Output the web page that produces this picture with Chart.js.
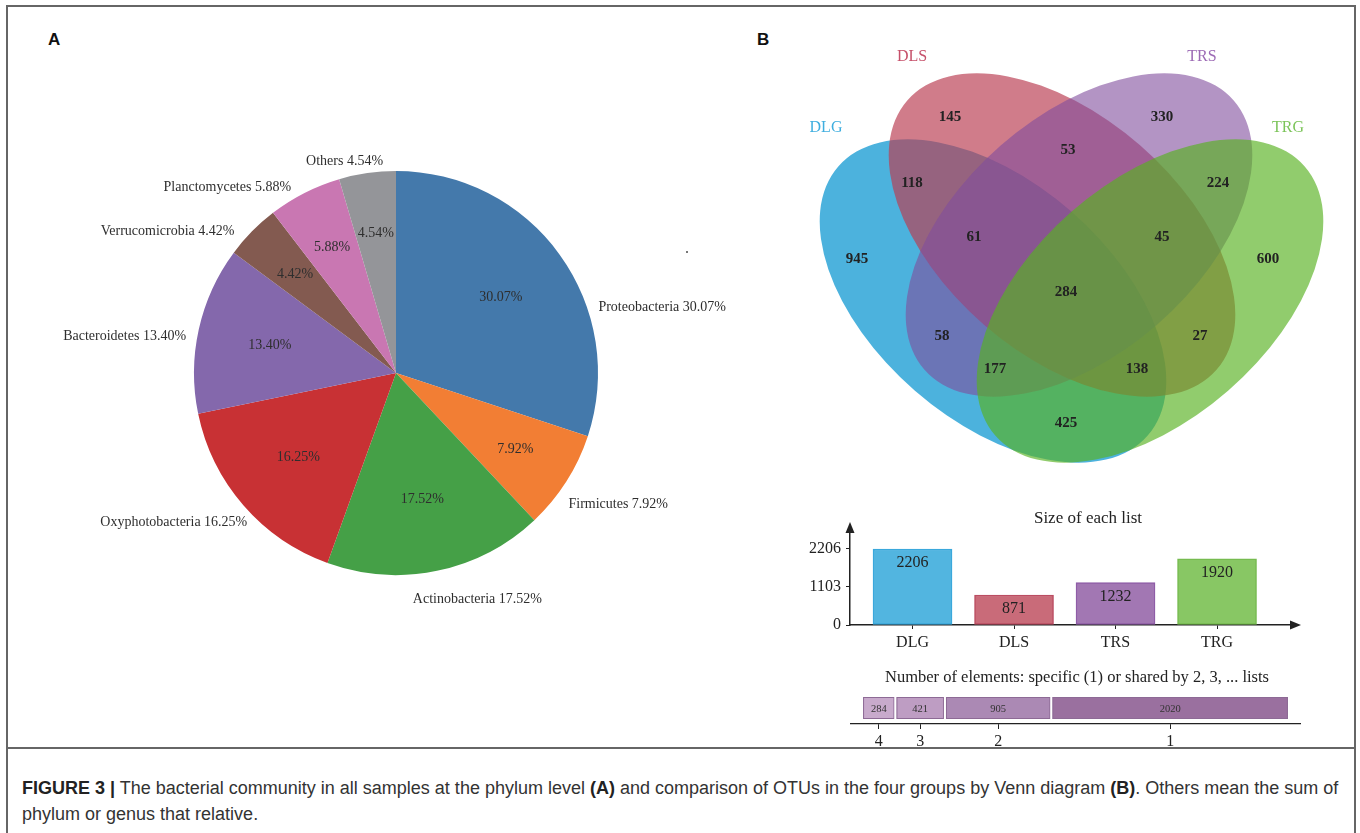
<!DOCTYPE html>
<html>
<head>
<meta charset="utf-8">
<title>Figure 3</title>
<script src="https://cdn.jsdelivr.net/npm/chart.js@4.4.1/dist/chart.umd.min.js"></script>
<style>
  html, body { margin: 0; padding: 0; background: #fff; }
  body { width: 1360px; height: 833px; position: relative; overflow: hidden; }
  canvas { position: absolute; }
  .frame { position: absolute; left: 6px; top: 5px; width: 1350px; height: 900px; border: 2px solid #666; box-sizing: border-box; }
  .sep { position: absolute; left: 6px; top: 747px; width: 1350px; border-top: 2px solid #666; }
  .panel { position: absolute; font: bold 17px/1 "Liberation Sans", Arial, sans-serif; color: #111; }
  .title { position: absolute; font-family: "Liberation Serif", serif; color: #222; white-space: nowrap; transform: translateX(-50%); line-height: 1; }
  .caption { position: absolute; left: 22px; top: 775px; font: 18px/26px "Liberation Sans", Arial, sans-serif; color: #333; white-space: nowrap; }
  .caption b { color: #222; }
  .dot { position: absolute; left: 686px; top: 251px; width: 2px; height: 2px; background: #777; }
</style>
</head>
<body>
<div class="frame"></div>
<div class="sep"></div>

<canvas id="pieChart" width="752" height="486" style="left:20px;top:130px"></canvas>
<canvas id="vennChart" width="560" height="440" style="left:790px;top:40px"></canvas>
<canvas id="sizeChart" width="530" height="150" style="left:790px;top:505px"></canvas>
<canvas id="sharedChart" width="530" height="95" style="left:790px;top:660px"></canvas>

<div class="panel" style="left:48px;top:31px">A</div>
<div class="panel" style="left:757px;top:31px">B</div>
<div class="dot"></div>
<div class="title" style="left:1088px;top:509px;font-size:17px">Size of each list</div>
<div class="title" style="left:1077px;top:669px;font-size:16.5px">Number of elements: specific (1) or shared by 2, 3, ... lists</div>

<div class="caption"><b>FIGURE 3 |</b> The bacterial community in all samples at the phylum level <b>(A)</b> and comparison of OTUs in the four groups by Venn diagram <b>(B)</b>. Others mean the sum of<br>phylum or genus that relative.</div>

<script>
// dati del pannello A (phylum, % relativa)
const phylumNames = ['Proteobacteria', 'Firmicutes', 'Actinobacteria', 'Oxyphotobacteria',
                     'Bacteroidetes', 'Verrucomicrobia', 'Planctomycetes', 'Others'];
const phylumPercent = [30.07, 7.92, 17.52, 16.25, 13.40, 4.42, 5.88, 4.54];
const phylumColors = ['#4479ab', '#f27e34', '#45a047', '#c83134', '#8468ac', '#835a50', '#c977b2', '#949599'];

// dati del pannello B (Venn)
const setNames = ['DLG', 'DLS', 'TRS', 'TRG'];
const setColors = ['#3faedf', '#c6506a', '#9c6ab5', '#7cc45a'];
const regionCounts = [945, 145, 330, 600, 118, 53, 224, 61, 45, 284, 58, 27, 177, 138, 425];

// dimensione di ogni lista
const listSizes = [2206, 871, 1232, 1920];
const sizeTicks = [0, 1103, 2206];
const listFill = ['#52b5e0', '#c96b79', '#a277b3', '#88c764'];
const listBorder = ['#3aa8dc', '#bb4d62', '#8f5ca7', '#76bb4f'];

// elementi specifici (1) o condivisi da 2, 3, 4 liste
const sharedBy = ['4', '3', '2', '1'];
const sharedCounts = [284, 421, 905, 2020];
const sharedFill = ['#c8aacc', '#be9dc3', '#ab89b4', '#9a709f'];

// layout del Venn (unita' = pixel, origine sull'asse di simmetria)
const ellipses = [
  { cx: -77, cy: -41, rx: 205, ry: 119, rot: 41 },
  { cx: -8, cy: 25, rx: 205, ry: 119, rot: 41 },
  { cx: 9, cy: 25, rx: 205, ry: 119, rot: -41 },
  { cx: 80, cy: -41, rx: 205, ry: 119, rot: -41 }
];
const ellipseFill = ['rgba(0,146,206,0.7)', 'rgba(186,62,82,0.68)', 'rgba(128,76,156,0.6)', 'rgba(88,178,34,0.66)'];
const regionX = [-213, -120, 92, 198, -158, -2, 148, -96, 92, -4, -128, 130, -75, 67, -4];
const regionY = [1, 143, 143, 1, 77, 110, 77, 23, 23, -32, -76, -76, -109, -109, -163];
const setLabelX = [-244, -158, 132, 218];
const setLabelY = [132, 203, 203, 132];

// spostamenti delle etichette esterne della torta
const pieNudge = [[29, 60], [-8, 16], [38, 17], [13, 9], [-1, 9], [-9, 8], [-8, 5], [-21, 0]];

const serif = '"Liberation Serif", "Times New Roman", serif';

// etichette della torta: percentuale dentro, nome + percentuale fuori
const pieLabels = {
  id: 'pieLabels',
  afterDatasetsDraw(chart) {
    const ctx = chart.ctx;
    const meta = chart.getDatasetMeta(0);
    ctx.save();
    ctx.font = '14px ' + serif;
    ctx.fillStyle = '#2e2e2e';
    ctx.textBaseline = 'middle';
    meta.data.forEach((arc, i) => {
      const p = arc.getProps(['x', 'y', 'startAngle', 'endAngle', 'outerRadius'], true);
      const mid = (p.startAngle + p.endAngle) / 2;
      const c = Math.cos(mid), s = Math.sin(mid);
      const txt = phylumPercent[i].toFixed(2) + '%';
      const ri = p.outerRadius * (phylumPercent[i] > 10 ? 0.64 : 0.7);
      ctx.textAlign = 'center';
      ctx.fillText(txt, p.x + c * ri, p.y + s * ri);
      const ro = p.outerRadius + 12;
      ctx.textAlign = Math.abs(c) < 0.3 ? 'center' : (c > 0 ? 'left' : 'right');
      ctx.fillText(phylumNames[i] + ' ' + txt, p.x + c * ro + pieNudge[i][0], p.y + s * ro + pieNudge[i][1]);
    });
    ctx.restore();
  }
};

new Chart(document.getElementById('pieChart'), {
  type: 'pie',
  data: {
    labels: phylumNames,
    datasets: [{ data: phylumPercent, backgroundColor: phylumColors, borderWidth: 0 }]
  },
  options: {
    responsive: false,
    animation: false,
    layout: { padding: 41 },
    plugins: { legend: { display: false }, tooltip: { enabled: false } }
  },
  plugins: [pieLabels]
});

// ellissi e numeri del Venn disegnati con le scale del grafico
const vennDraw = {
  id: 'vennDraw',
  beforeDatasetsDraw(chart) {
    const ctx = chart.ctx;
    const xs = chart.scales.x, ys = chart.scales.y;
    const ux = xs.getPixelForValue(1) - xs.getPixelForValue(0);
    const uy = ys.getPixelForValue(0) - ys.getPixelForValue(1);
    ctx.save();
    ellipses.forEach((e, i) => {
      ctx.beginPath();
      ctx.ellipse(xs.getPixelForValue(e.cx), ys.getPixelForValue(e.cy), e.rx * ux, e.ry * uy,
                  e.rot * Math.PI / 180, 0, Math.PI * 2);
      ctx.fillStyle = ellipseFill[i];
      ctx.fill();
    });
    ctx.font = '16px ' + serif;
    ctx.textAlign = 'center';
    ctx.textBaseline = 'middle';
    setNames.forEach((n, i) => {
      ctx.fillStyle = setColors[i];
      ctx.fillText(n, xs.getPixelForValue(setLabelX[i]), ys.getPixelForValue(setLabelY[i]));
    });
    ctx.restore();
  },
  afterDatasetsDraw(chart) {
    const ctx = chart.ctx;
    ctx.save();
    ctx.font = 'bold 15px ' + serif;
    ctx.fillStyle = '#222';
    ctx.textAlign = 'center';
    ctx.textBaseline = 'middle';
    chart.getDatasetMeta(0).data.forEach((pt, i) => {
      ctx.fillText(String(regionCounts[i]), pt.x, pt.y);
    });
    ctx.restore();
  }
};

new Chart(document.getElementById('vennChart'), {
  type: 'scatter',
  data: {
    datasets: [{ data: regionX.map((x, i) => ({ x: x, y: regionY[i] })), pointRadius: 0 }]
  },
  options: {
    responsive: false,
    animation: false,
    layout: { padding: 0 },
    plugins: { legend: { display: false }, tooltip: { enabled: false } },
    scales: {
      x: { type: 'linear', min: -280, max: 280, display: false },
      y: { type: 'linear', min: -220, max: 220, display: false }
    }
  },
  plugins: [vennDraw]
});

// frecce sugli assi e valori dentro le barre
const axisArrows = {
  id: 'axisArrows',
  afterDraw(chart) {
    const ctx = chart.ctx, a = chart.chartArea;
    ctx.save();
    ctx.fillStyle = '#222';
    ctx.beginPath();
    ctx.moveTo(a.right + 11, a.bottom);
    ctx.lineTo(a.right, a.bottom - 4.5);
    ctx.lineTo(a.right, a.bottom + 4.5);
    ctx.closePath();
    ctx.fill();
    ctx.beginPath();
    ctx.moveTo(a.left, a.top - 11);
    ctx.lineTo(a.left - 4.5, a.top);
    ctx.lineTo(a.left + 4.5, a.top);
    ctx.closePath();
    ctx.fill();
    ctx.restore();
  }
};

const barValues = {
  id: 'barValues',
  afterDatasetsDraw(chart) {
    const ctx = chart.ctx;
    ctx.save();
    ctx.font = '16px ' + serif;
    ctx.fillStyle = '#222';
    ctx.textAlign = 'center';
    ctx.textBaseline = 'middle';
    chart.getDatasetMeta(0).data.forEach((bar, i) => {
      ctx.fillText(String(listSizes[i]), bar.x, bar.y + 14);
    });
    ctx.restore();
  }
};

const axisStyle = {
  grid: { display: true, drawOnChartArea: false, tickLength: 4, color: '#222', offset: false },
  border: { display: true, color: '#222', width: 1.5 }
};

new Chart(document.getElementById('sizeChart'), {
  type: 'bar',
  data: {
    datasets: [{
      data: listSizes.map((v, i) => ({ x: i, y: v })),
      backgroundColor: listFill,
      borderColor: listBorder,
      borderWidth: 1.5,
      borderSkipped: false,
      barThickness: 79
    }]
  },
  options: {
    responsive: false,
    animation: false,
    layout: { padding: { left: 10, right: 30, top: 28, bottom: 0 } },
    plugins: { legend: { display: false }, tooltip: { enabled: false } },
    scales: {
      x: {
        type: 'linear', min: -0.616, max: 3.719, offset: false,
        afterBuildTicks: s => { s.ticks = setNames.map((n, i) => ({ value: i })); },
        afterFit: s => { s.height = 30; },
        ticks: { callback: (v, i) => setNames[i], font: { family: serif, size: 16 }, color: '#222', padding: 4, maxRotation: 0, autoSkip: false },
        ...axisStyle
      },
      y: {
        type: 'linear', min: 0, max: 2670,
        afterBuildTicks: s => { s.ticks = sizeTicks.map(v => ({ value: v })); },
        afterFit: s => { s.width = 50; },
        ticks: { callback: v => String(v), font: { family: serif, size: 16 }, color: '#222', padding: 5 },
        ...axisStyle
      }
    }
  },
  plugins: [axisArrows, barValues]
});

// contorni dei segmenti (bordo viola con stacco bianco) e numeri
const segmentOutline = {
  id: 'segmentOutline',
  afterDatasetsDraw(chart) {
    const ctx = chart.ctx;
    ctx.save();
    ctx.textAlign = 'center';
    ctx.textBaseline = 'middle';
    ctx.font = '10.5px ' + serif;
    chart.data.datasets.forEach((ds, i) => {
      const bar = chart.getDatasetMeta(i).data[0];
      const left = Math.min(bar.x, bar.base), right = Math.max(bar.x, bar.base);
      const top = bar.y - bar.height / 2, h = bar.height;
      ctx.strokeStyle = '#fff';
      ctx.lineWidth = 2;
      ctx.strokeRect(left, top, right - left, h);
      ctx.strokeStyle = '#8d6a95';
      ctx.lineWidth = 1;
      ctx.strokeRect(left + 1.5, top + 1.5, right - left - 3, h - 3);
      ctx.fillStyle = '#333';
      ctx.fillText(String(sharedCounts[i]), (left + right) / 2, bar.y + 1);
    });
    ctx.restore();
  }
};

const sharedMids = [];
sharedCounts.reduce((acc, v) => { sharedMids.push(acc + v / 2); return acc + v; }, 0);

new Chart(document.getElementById('sharedChart'), {
  type: 'bar',
  data: {
    labels: [''],
    datasets: sharedCounts.map((v, i) => ({
      data: [v],
      backgroundColor: sharedFill[i],
      borderWidth: 0,
      barThickness: 24
    }))
  },
  options: {
    indexAxis: 'y',
    responsive: false,
    animation: false,
    layout: { padding: { left: 61, right: 20, top: 32, bottom: 0 } },
    plugins: { legend: { display: false }, tooltip: { enabled: false } },
    scales: {
      x: {
        type: 'linear', stacked: true, min: -94, max: 3724, offset: false,
        afterBuildTicks: s => { s.ticks = sharedMids.map(v => ({ value: v })); },
        afterFit: s => { s.height = 31; },
        ticks: { callback: (v, i) => sharedBy[i], font: { family: serif, size: 16 }, color: '#222', padding: 3, maxRotation: 0, autoSkip: false },
        grid: { display: true, drawOnChartArea: false, tickLength: 5, color: '#222', offset: false },
        border: { display: true, color: '#222', width: 1.2 }
      },
      y: { stacked: true, display: false }
    }
  },
  plugins: [segmentOutline]
});
</script>
</body>
</html>
